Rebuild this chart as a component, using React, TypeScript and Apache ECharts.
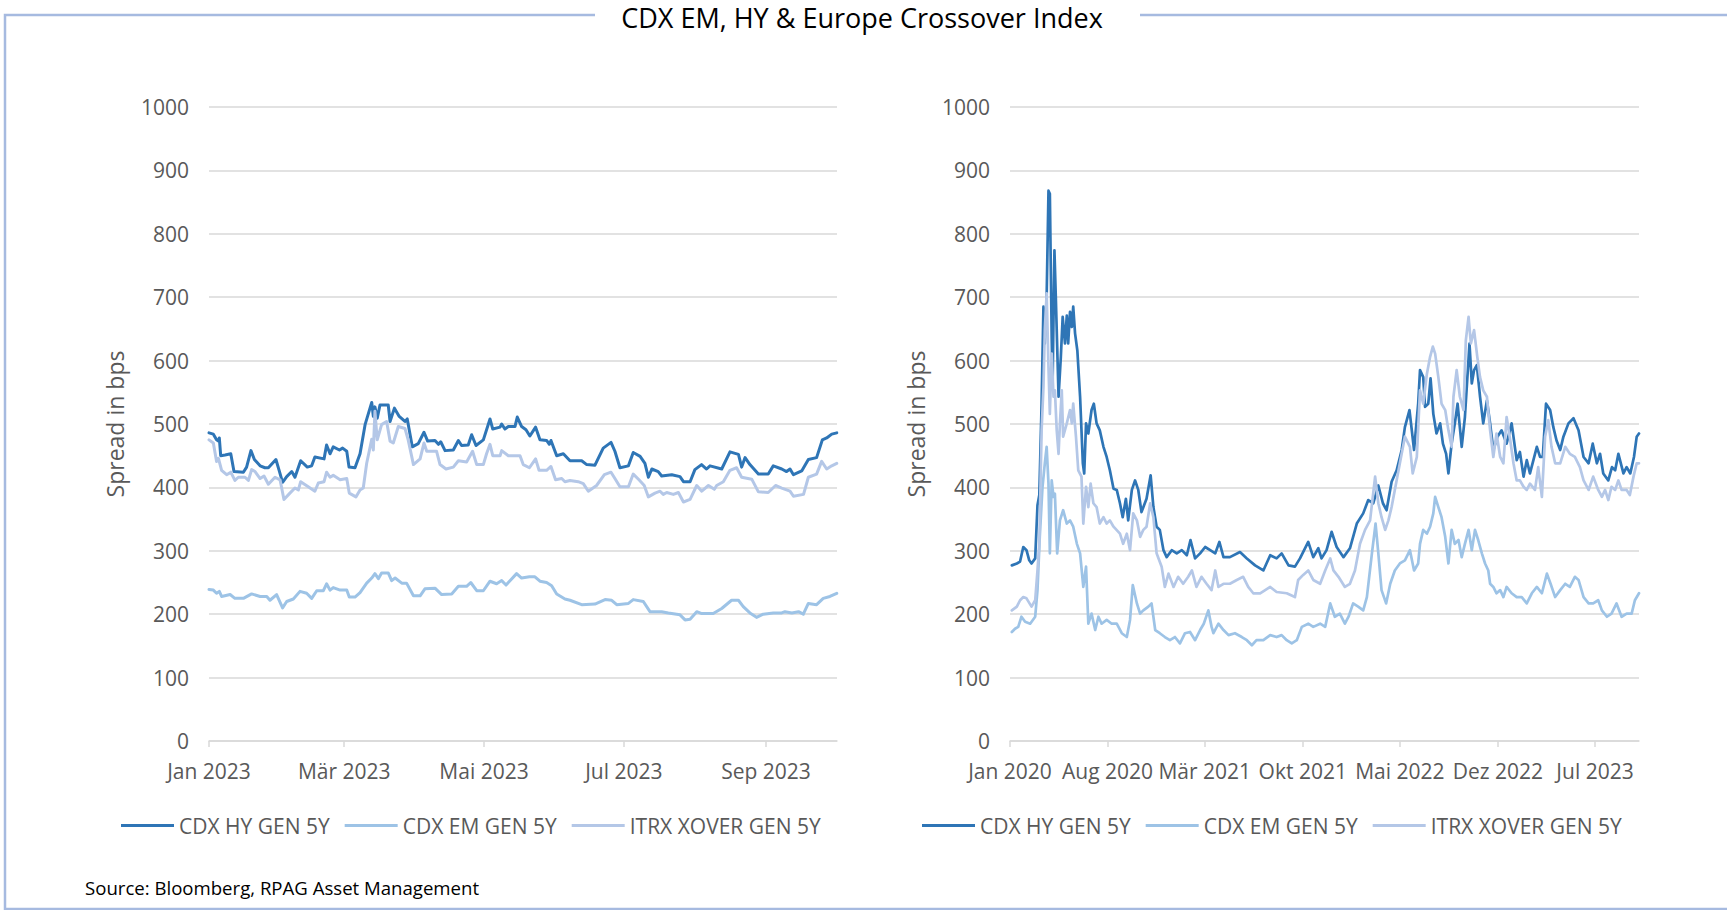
import React, { useEffect, useRef } from "react";
import * as echarts from "echarts";

const TITLE = "CDX EM, HY & Europe Crossover Index";
const SOURCE = "Source: Bloomberg, RPAG Asset Management";
const Y_NAME = "Spread in bps";
const SERIES_NAMES = ["CDX HY GEN 5Y", "CDX EM GEN 5Y", "ITRX XOVER GEN 5Y"];
const COLORS = ["#2E75B6", "#9DC3E6", "#B4C7E7"];
const MONTHS_DE = ["Jan", "Feb", "Mär", "Apr", "Mai", "Jun", "Jul", "Aug", "Sep", "Okt", "Nov", "Dez"];

// x values are days counted from the panel's start date
const LEFT_START = "2023-01-01";
const LEFT_SPAN_DAYS = 274;
const LEFT_TICKS = ["2023-01-01", "2023-03-01", "2023-05-01", "2023-07-01", "2023-09-01"];
const RIGHT_START = "2020-01-01";
const RIGHT_SPAN_DAYS = 1373;
const RIGHT_TICKS = ["2020-01-01", "2020-08-01", "2021-03-01", "2021-10-01", "2022-05-01", "2022-12-01", "2023-07-01"];
const Y_MIN = 0;
const Y_MAX = 1000;
const Y_STEP = 100;

// ---- Left panel: 2023 ----
const leftHY: [number, number][] = [
  [0, 486], [1.9, 484], [3.3, 475], [4.1, 473], [4.5, 478], [5.1, 450], [7, 451], [9.5, 453], [10.9, 425], [15, 424],
  [16.4, 432], [18.3, 458], [19.8, 444], [22.3, 434], [24.4, 431], [25.9, 431], [29.2, 444], [30.5, 428], [32.1, 408],
  [33.9, 417], [36.1, 425], [37.5, 416], [40, 442], [42.9, 432], [44.8, 434], [46.2, 448], [50.2, 445], [51.3, 467],
  [52.8, 453], [54.2, 464], [56.9, 459], [58.3, 462], [60.1, 457], [61.1, 432], [63.7, 431], [65.9, 453], [68.1, 499],
  [71, 534], [71.7, 512], [72.4, 527], [73.4, 509], [74.6, 530], [78.2, 530], [79, 504], [80.9, 525], [83, 512],
  [85.5, 504], [86.5, 508], [88.7, 464], [91.3, 469], [93.8, 487], [95.4, 473], [98.6, 474], [100.1, 468], [101.1, 472],
  [103, 458], [106.6, 459], [108.8, 474], [110.2, 466], [113.1, 467], [114.6, 483], [116.5, 466], [119.7, 475],
  [122.6, 508], [123.8, 492], [127, 495], [127.7, 500], [129.1, 492], [130.6, 496], [133.5, 496], [134.5, 511],
  [136.4, 496], [138.3, 491], [140, 481], [142.5, 495], [144.4, 475], [147.3, 474], [148.5, 468], [149.2, 474],
  [151.7, 450], [154.6, 453], [157.5, 442], [162.6, 442], [164.8, 436], [168.4, 435], [172, 462], [175.4, 471],
  [177.1, 457], [179.3, 431], [183, 434], [185.1, 455], [188.1, 449], [190.2, 438], [191.7, 416], [193.2, 429],
  [196, 425], [197.5, 418], [201.9, 420], [205.5, 417], [207, 409], [209.9, 409], [212, 428], [214.9, 436], [217.1, 429],
  [218.6, 434], [223.7, 429], [227.3, 456], [231, 452], [232.4, 432], [233.9, 447], [236, 436], [239.7, 421], [244, 421],
  [246.2, 434], [249.9, 429], [252, 425], [253.5, 429], [255, 420], [258.6, 426], [261.5, 444], [265.1, 447],
  [267.6, 475], [269.5, 478], [271.7, 484], [273.9, 486],
];
const leftEM: [number, number][] = [
  [0, 239], [1.9, 238], [3.3, 233], [4.5, 236], [5.5, 228], [9.2, 231], [11.3, 225], [15, 225], [18.6, 232], [22.3, 228],
  [25.2, 228], [26.6, 222], [29.5, 231], [32.1, 210], [33.9, 220], [36.8, 224], [39.7, 236], [42.6, 233], [44.8, 225],
  [47, 237], [49.9, 237], [51.3, 248], [52.8, 238], [54.2, 242], [57.2, 238], [60.1, 238], [61.2, 227], [63.7, 227],
  [65.9, 234], [68.8, 249], [71, 257], [72.4, 264], [73.9, 256], [75.3, 265], [78.2, 265], [79.7, 253], [81.2, 257],
  [84.1, 249], [86.2, 249], [89.2, 229], [92.1, 229], [94.2, 240], [98.6, 241], [101.5, 231], [105.9, 232], [108.8, 244],
  [112.4, 244], [114.2, 250], [116.8, 237], [119.7, 237], [122.6, 252], [125.5, 248], [127.7, 253], [129.6, 246],
  [134.2, 264], [136.4, 257], [139.8, 259], [142.2, 259], [144.4, 252], [147.3, 250], [149.5, 245], [151.7, 232],
  [155.3, 224], [157.5, 222], [162.6, 215], [168.4, 216], [172.8, 223], [175.7, 222], [177.9, 215], [183, 217],
  [185.1, 223], [189.5, 220], [192.4, 204], [197.5, 204], [200.4, 202], [205.5, 199], [207.7, 191], [209.9, 192],
  [212.8, 204], [215, 201], [220, 201], [223.7, 209], [228, 222], [231, 222], [233.1, 212], [236, 202], [238.9, 195],
  [241.8, 200], [246.2, 202], [249.9, 202], [251.3, 204], [254.3, 202], [257.2, 204], [259.3, 200], [261.5, 217],
  [265.1, 215], [268, 225], [270.9, 228], [273.9, 233],
];
const leftXO: [number, number][] = [
  [0, 475], [1.9, 470], [3.3, 441], [4.1, 446], [5.5, 427], [7.7, 420], [9.5, 424], [11.3, 411], [12.8, 416], [15.7, 416],
  [17.2, 411], [18.6, 428], [20.1, 425], [22.3, 414], [24, 418], [25.9, 405], [28.8, 416], [31, 412], [32.7, 381],
  [35.3, 391], [37.5, 399], [39, 396], [40, 409], [43.3, 401], [46.2, 394], [47.7, 407], [50.2, 409], [51.3, 424],
  [52.8, 416], [54.2, 419], [57.2, 412], [60.1, 414], [61.2, 391], [64.1, 385], [65.9, 396], [67.3, 399], [68.8, 438],
  [71, 476], [71.7, 459], [72.4, 520], [73.4, 475], [75.3, 499], [77.5, 504], [79, 473], [80.4, 470], [82.6, 496],
  [85.5, 493], [86.9, 475], [89.2, 436], [92.1, 445], [93.8, 470], [95, 457], [99.3, 457], [100.8, 436], [103.4, 429],
  [106.6, 432], [108.8, 442], [112.4, 440], [115, 457], [116.8, 436], [119.7, 436], [121.1, 453], [122.6, 468],
  [123.8, 450], [127, 450], [127.7, 458], [130.6, 450], [135.7, 450], [137.1, 436], [139.8, 431], [142.5, 445],
  [144, 427], [147.3, 427], [149.2, 433], [151.2, 412], [153.9, 414], [155.3, 409], [157.5, 411], [161.1, 409],
  [163.3, 406], [165.5, 394], [169.1, 403], [172.5, 420], [175.4, 424], [177.1, 414], [179.3, 401], [183, 401],
  [185.1, 421], [187.6, 412], [189.9, 403], [191.7, 385], [194.6, 391], [196.8, 394], [198.2, 389], [199.7, 392],
  [202.6, 389], [204.8, 392], [207, 377], [209.9, 381], [212.8, 403], [215, 394], [217.9, 403], [220.5, 397],
  [221.5, 403], [224.4, 409], [227.3, 427], [230.2, 431], [232.4, 416], [236.8, 413], [239.7, 393], [244, 392],
  [247.2, 403], [249.9, 399], [253.5, 394], [255, 386], [259.4, 389], [261.5, 416], [265.1, 421], [267.3, 441],
  [269.5, 429], [271.7, 434], [273.9, 438],
];

// ---- Right panel: 2020 - 2023 ----
const rightHY: [number, number][] = [
  [4, 277], [15, 280], [22, 283], [29, 306], [36, 301], [42, 285], [47, 280], [55, 288], [60, 372], [64, 388], [69, 532],
  [73, 685], [76, 627], [80, 700], [84, 868], [87, 863], [91, 637], [93, 564], [97, 774], [100, 700], [106, 543],
  [111, 606], [115, 669], [120, 627], [124, 671], [127, 627], [131, 677], [135, 653], [138, 685], [142, 643], [147, 616],
  [153, 543], [159, 438], [162, 422], [166, 501], [171, 485], [178, 522], [183, 532], [189, 501], [196, 490], [204, 464],
  [211, 448], [218, 427], [226, 398], [233, 396], [240, 375], [246, 353], [253, 382], [258, 348], [266, 396], [273, 411],
  [280, 396], [287, 361], [298, 382], [307, 419], [313, 369], [320, 338], [327, 333], [335, 301], [342, 290], [353, 301],
  [364, 296], [375, 301], [386, 293], [394, 317], [404, 288], [415, 296], [426, 306], [437, 301], [448, 296], [457, 314],
  [466, 290], [480, 290], [502, 298], [517, 288], [535, 277], [553, 269], [568, 293], [582, 288], [593, 296], [608, 277],
  [622, 275], [633, 288], [651, 314], [662, 290], [673, 304], [680, 288], [691, 301], [702, 330], [713, 306], [728, 290],
  [742, 304], [757, 343], [771, 359], [782, 380], [793, 375], [804, 403], [814, 375], [822, 364], [833, 409], [844, 427],
  [855, 459], [862, 495], [872, 522], [882, 459], [891, 532], [895, 585], [902, 574], [906, 527], [913, 532], [918, 572],
  [924, 516], [931, 485], [939, 501], [945, 469], [952, 453], [957, 422], [964, 469], [971, 501], [977, 532], [986, 464],
  [993, 511], [1003, 627], [1008, 564], [1013, 585], [1019, 593], [1026, 543], [1033, 501], [1041, 537], [1048, 501],
  [1055, 459], [1064, 480], [1073, 490], [1084, 469], [1095, 501], [1106, 443], [1113, 456], [1121, 417], [1128, 443],
  [1135, 422], [1150, 464], [1157, 448], [1163, 448], [1170, 532], [1179, 522], [1186, 495], [1193, 474], [1201, 459],
  [1208, 480], [1219, 501], [1230, 509], [1241, 490], [1252, 448], [1263, 438], [1272, 469], [1281, 438], [1288, 453],
  [1295, 422], [1306, 411], [1314, 432], [1321, 427], [1328, 453], [1339, 422], [1346, 432], [1354, 422], [1362, 448],
  [1368, 480], [1373, 485],
];
const rightEM: [number, number][] = [
  [4, 172], [11, 177], [18, 180], [25, 196], [33, 188], [44, 185], [55, 196], [60, 238], [65, 322], [71, 401], [76, 438],
  [80, 464], [84, 406], [87, 296], [91, 411], [95, 385], [98, 390], [103, 296], [109, 348], [116, 364], [124, 343],
  [131, 348], [138, 338], [146, 311], [153, 296], [160, 243], [166, 275], [171, 185], [178, 201], [186, 175], [193, 196],
  [200, 185], [211, 191], [222, 185], [233, 185], [244, 170], [255, 164], [262, 191], [268, 246], [277, 217], [284, 201],
  [291, 206], [302, 212], [309, 217], [317, 175], [327, 170], [338, 164], [349, 159], [360, 164], [371, 154], [382, 170],
  [393, 172], [404, 159], [415, 175], [423, 185], [433, 206], [440, 180], [444, 170], [455, 185], [466, 175], [477, 167],
  [491, 170], [506, 164], [517, 159], [528, 151], [538, 159], [553, 159], [568, 167], [582, 164], [593, 167], [604, 159],
  [615, 154], [626, 159], [637, 180], [651, 185], [662, 180], [677, 185], [688, 180], [699, 217], [709, 196], [720, 201],
  [731, 185], [739, 196], [749, 217], [760, 212], [771, 206], [779, 227], [790, 296], [798, 343], [804, 296], [811, 238],
  [821, 217], [830, 248], [840, 269], [851, 280], [862, 285], [873, 301], [882, 269], [891, 280], [895, 311], [902, 333],
  [910, 327], [917, 338], [924, 359], [928, 385], [935, 369], [942, 353], [950, 322], [957, 280], [964, 333], [971, 311],
  [979, 317], [986, 290], [993, 311], [1001, 333], [1008, 301], [1015, 333], [1022, 317], [1030, 296], [1037, 280],
  [1044, 269], [1048, 248], [1055, 243], [1062, 233], [1070, 238], [1077, 227], [1084, 243], [1095, 233], [1106, 227],
  [1117, 227], [1128, 217], [1139, 233], [1150, 243], [1161, 233], [1172, 264], [1180, 248], [1190, 227], [1201, 238],
  [1212, 248], [1222, 243], [1233, 259], [1241, 254], [1252, 227], [1263, 217], [1273, 217], [1284, 222], [1292, 206],
  [1303, 196], [1313, 201], [1324, 217], [1335, 196], [1346, 201], [1357, 201], [1364, 222], [1373, 233],
];
const rightXO: [number, number][] = [
  [4, 206], [15, 212], [22, 222], [29, 227], [36, 225], [47, 212], [55, 222], [60, 269], [64, 311], [69, 490], [73, 558],
  [76, 648], [80, 706], [84, 590], [87, 516], [91, 611], [95, 543], [98, 553], [102, 490], [106, 453], [109, 501],
  [113, 553], [116, 480], [124, 501], [131, 522], [135, 501], [138, 532], [144, 480], [149, 427], [156, 417], [160, 343],
  [166, 401], [171, 369], [176, 406], [182, 375], [189, 369], [196, 343], [204, 353], [211, 343], [218, 348], [226, 338],
  [240, 327], [247, 311], [255, 327], [262, 301], [269, 359], [277, 348], [284, 322], [291, 333], [298, 338], [306, 375],
  [313, 353], [320, 296], [331, 275], [338, 243], [346, 264], [357, 243], [367, 259], [378, 248], [389, 259], [397, 269],
  [407, 243], [418, 259], [429, 248], [440, 238], [448, 269], [455, 243], [466, 248], [480, 248], [495, 254], [509, 259],
  [520, 243], [531, 233], [546, 233], [557, 238], [568, 243], [582, 235], [604, 233], [622, 227], [629, 254], [640, 262],
  [651, 269], [662, 254], [677, 248], [688, 269], [699, 288], [706, 269], [717, 259], [731, 243], [742, 248], [753, 269],
  [764, 311], [775, 333], [786, 348], [797, 417], [804, 375], [811, 353], [819, 333], [826, 348], [833, 369], [840, 396],
  [851, 438], [862, 480], [873, 464], [879, 422], [888, 448], [895, 553], [902, 532], [910, 579], [917, 606], [923, 622],
  [928, 611], [935, 574], [942, 532], [950, 522], [957, 490], [964, 464], [968, 543], [975, 585], [982, 543], [990, 522],
  [995, 632], [1001, 669], [1006, 627], [1013, 648], [1020, 606], [1026, 574], [1033, 553], [1041, 543], [1048, 490],
  [1055, 448], [1062, 485], [1070, 448], [1077, 438], [1084, 511], [1092, 474], [1099, 438], [1106, 411], [1113, 411],
  [1121, 401], [1128, 396], [1135, 406], [1146, 396], [1153, 432], [1161, 385], [1168, 480], [1175, 506], [1182, 464],
  [1190, 438], [1201, 438], [1212, 464], [1222, 453], [1233, 448], [1244, 432], [1252, 411], [1263, 396], [1273, 417],
  [1284, 396], [1292, 385], [1299, 396], [1306, 380], [1313, 401], [1321, 396], [1328, 411], [1335, 396], [1346, 396],
  [1353, 388], [1361, 417], [1368, 438], [1373, 438],
];

const FONT = "'Open Sans', 'Noto Sans', sans-serif";
const DAY = 86400000;
const toTs = (s: string) => Date.parse(s + "T00:00:00Z");

function fmtMonth(v: number) {
  const d = new Date(v);
  return MONTHS_DE[d.getUTCMonth()] + " " + d.getUTCFullYear();
}

export default function App() {
  const ref = useRef<HTMLDivElement>(null);

  useEffect(() => {
    if (!ref.current) return;
    const chart = echarts.init(ref.current, undefined, { renderer: "svg" });

    const leftStart = toTs(LEFT_START);
    const rightStart = toTs(RIGHT_START);
    const toSeries = (pts: [number, number][], start: number) =>
      pts.map(([d, v]) => [start + d * DAY, v]);

    const mkX = (gridIndex: number, start: number, span: number, ticks: string[]) => {
      const vals = ticks.map(toTs);
      return {
        type: "value",
        gridIndex,
        min: start,
        max: start + span * DAY,
        axisLine: { show: true, onZero: false, lineStyle: { color: "#D9D9D9", width: 1.5 } },
        axisTick: { show: true, customValues: vals, length: 6, lineStyle: { color: "#D9D9D9", width: 1.5 } },
        axisLabel: {
          customValues: vals,
          formatter: (v: number) => fmtMonth(v),
          color: "#595959",
          fontSize: 21,
          fontFamily: FONT,
          margin: 19,
          hideOverlap: false,
        },
        splitLine: { show: false },
      };
    };

    const mkY = (gridIndex: number) => ({
      type: "value",
      gridIndex,
      min: Y_MIN,
      max: Y_MAX,
      interval: Y_STEP,
      name: Y_NAME,
      nameLocation: "middle",
      nameGap: 83,
      nameRotate: 90,
      nameTextStyle: { color: "#595959", fontSize: 23, fontFamily: FONT },
      axisLine: { show: false },
      axisTick: { show: false },
      axisLabel: {
        color: "#595959",
        fontSize: 21,
        fontFamily: FONT,
        margin: 20,
        formatter: (v: number) => String(v),
      },
      splitLine: { lineStyle: { color: "#D9D9D9", width: 1.5 } },
    });

    const mkSeries = (name: string, color: string, data: number[][], idx: number, width: number) => ({
      name,
      type: "line",
      xAxisIndex: idx,
      yAxisIndex: idx,
      data,
      showSymbol: false,
      symbol: "none",
      color,
      itemStyle: { color },
      lineStyle: { color, width, join: "round", cap: "round" },
    });

    const legendBase = {
      data: SERIES_NAMES,
      top: 815,
      padding: 0,
      icon: "rect",
      itemWidth: 53,
      itemHeight: 3,
      itemGap: 15,
      textStyle: { color: "#595959", fontSize: 21, fontFamily: FONT },
    };

    const borderColor = "#A6BAE0";

    chart.setOption({
      animation: false,
      textStyle: { fontFamily: FONT },
      grid: [
        { left: 209, top: 107, width: 628, height: 634 },
        { left: 1010, top: 107, width: 629, height: 634 },
      ],
      xAxis: [
        mkX(0, leftStart, LEFT_SPAN_DAYS, LEFT_TICKS),
        mkX(1, rightStart, RIGHT_SPAN_DAYS, RIGHT_TICKS),
      ],
      yAxis: [mkY(0), mkY(1)],
      legend: [
        { ...legendBase, left: 121 },
        { ...legendBase, left: 922 },
      ],
      series: [
        mkSeries(SERIES_NAMES[0], COLORS[0], toSeries(leftHY, leftStart), 0, 3),
        mkSeries(SERIES_NAMES[1], COLORS[1], toSeries(leftEM, leftStart), 0, 3),
        mkSeries(SERIES_NAMES[2], COLORS[2], toSeries(leftXO, leftStart), 0, 3),
        mkSeries(SERIES_NAMES[0], COLORS[0], toSeries(rightHY, rightStart), 1, 2.7),
        mkSeries(SERIES_NAMES[1], COLORS[1], toSeries(rightEM, rightStart), 1, 2.7),
        mkSeries(SERIES_NAMES[2], COLORS[2], toSeries(rightXO, rightStart), 1, 2.7),
      ],
      graphic: [
        { type: "polyline", shape: { points: [[595, 15], [5, 15], [5, 909], [1727, 909]] }, style: { stroke: borderColor, lineWidth: 2.5, fill: null }, silent: true },
        { type: "line", shape: { x1: 1140, y1: 15, x2: 1727, y2: 15 }, style: { stroke: borderColor, lineWidth: 2.5 }, silent: true },
        { type: "text", x: 862, y: 17, style: { text: TITLE, fontSize: 27, lineHeight: 30, fontFamily: FONT, fill: "#000000", align: "center", verticalAlign: "middle" }, silent: true },
        { type: "text", x: 85, y: 887, style: { text: SOURCE, fontSize: 18.6, fontFamily: FONT, fill: "#000000", align: "left", verticalAlign: "middle" }, silent: true },
      ],
    });

    return () => chart.dispose();
  }, []);

  return (
    <div
      ref={ref}
      style={{ position: "fixed", left: 0, top: 0, width: "1727px", height: "910px", background: "#ffffff" }}
    />
  );
}
